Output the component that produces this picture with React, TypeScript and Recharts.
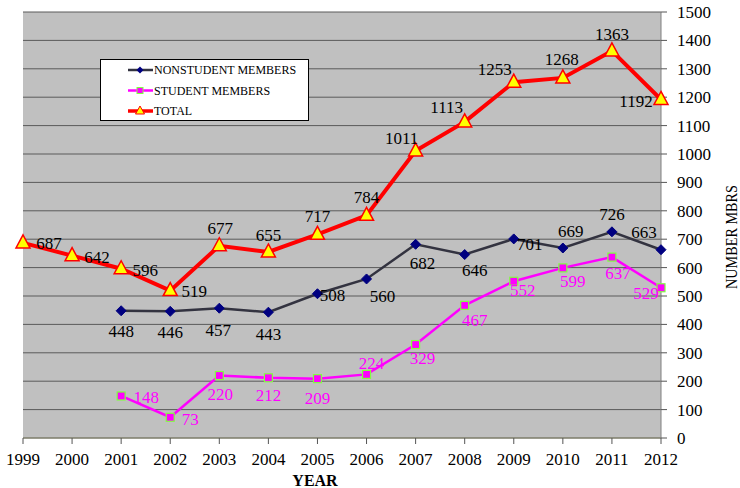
import { LineChart, Line, XAxis, YAxis, CartesianGrid, Legend } from "recharts";

const years = ["1999", "2000", "2001", "2002", "2003", "2004", "2005", "2006", "2007", "2008", "2009", "2010", "2011", "2012"];
const nonstudentMembers = [null, null, 448, 446, 457, 443, 508, 560, 682, 646, 701, 669, 726, 663];
const studentMembers = [null, null, 148, 73, 220, 212, 209, 224, 329, 467, 552, 599, 637, 529];
const totalMembers = [687, 642, 596, 519, 677, 655, 717, 784, 1011, 1113, 1253, 1268, 1363, 1192];
const yTicks = [0, 100, 200, 300, 400, 500, 600, 700, 800, 900, 1000, 1100, 1200, 1300, 1400, 1500];

// label offsets (text centre relative to the point), per series
const totalLabelOffsets = [[26, 0], [25, 1], [24, 1], [24, 0], [1, -18], [0, -17], [0, -18], [0, -18], [-14, -13], [-18, -15], [-19, -13], [-1, -19], [0, -17], [-25, 2]];
const nonstudentLabelOffsets = [null, null, [0, 20], [0, 21], [-1, 22], [0, 22], [15, 1], [16, 17], [7, 19], [10, 15], [16, 5], [8, -17], [0, -18], [-17, -18]];
const studentLabelOffsets = [null, null, [25, 1], [20, 2], [1, 18], [0, 17], [0, 19], [5, -11], [7, 13], [10, 15], [9, 9], [10, 13], [6, 16], [-15, 5]];

const data = years.map((year, i) => ({
  year,
  nonstudent: nonstudentMembers[i],
  student: studentMembers[i],
  total: totalMembers[i],
}));

const FONT = "Liberation Serif, Times New Roman, serif";
const fontStyle = { fontFamily: FONT };

const NONSTUDENT_LINE = "#333340";
const NONSTUDENT_MARK = "#000080";
const STUDENT = "#ff00ff";
const TOTAL = "#ff0000";

function makeLabel(offsets: any[], color: string) {
  return (props: any) => {
    const { x, y, value, index } = props;
    if (value == null || x == null || y == null) return null;
    const off = offsets[index] || [0, -15];
    return (
      <text x={x + off[0]} y={y + off[1] + 6} textAnchor="middle" fontSize={17} style={fontStyle} fill={color}>
        {value}
      </text>
    );
  };
}

const Diamond = (props: any) => {
  const { cx, cy, index } = props;
  if (cx == null || cy == null || props.value == null) return <g key={index} />;
  const r = 5;
  return (
    <polygon
      key={index}
      points={`${cx},${cy - r} ${cx + r},${cy} ${cx},${cy + r} ${cx - r},${cy}`}
      fill={NONSTUDENT_MARK}
      stroke={NONSTUDENT_MARK}
    />
  );
};

const Square = (props: any) => {
  const { cx, cy, index } = props;
  if (cx == null || cy == null || props.value == null) return <g key={index} />;
  return <rect key={index} x={cx - 4} y={cy - 4} width={8} height={8} fill={STUDENT} stroke="#80ff40" strokeWidth={1.2} />;
};

const Triangle = (props: any) => {
  const { cx, cy, index } = props;
  if (cx == null || cy == null) return <g key={index} />;
  return (
    <polygon
      key={index}
      points={`${cx},${cy - 8} ${cx + 7},${cy + 5} ${cx - 7},${cy + 5}`}
      fill="#ffff00"
      stroke={TOTAL}
      strokeWidth={1.5}
    />
  );
};

function LegendBox() {
  const rows = [
    { name: "NONSTUDENT MEMBERS", line: NONSTUDENT_LINE, mark: "diamond" },
    { name: "STUDENT MEMBERS", line: STUDENT, mark: "square" },
    { name: "TOTAL", line: TOTAL, mark: "triangle" },
  ];
  return (
    <svg width={209} height={62} style={{ display: "block" }}>
      <rect x={0.5} y={0.5} width={208} height={61} fill="#ffffff" stroke="#000000" strokeWidth={1} />
      {rows.map((r, i) => {
        const cy = 11 + i * 20.5;
        const cx = 40;
        return (
          <g key={r.name}>
            <line x1={28} x2={53} y1={cy} y2={cy} stroke={r.line} strokeWidth={r.mark === "triangle" ? 3.5 : 2.5} />
            {r.mark === "diamond" && (
              <polygon points={`${cx},${cy - 3.5} ${cx + 3.5},${cy} ${cx},${cy + 3.5} ${cx - 3.5},${cy}`} fill={NONSTUDENT_MARK} />
            )}
            {r.mark === "square" && <rect x={cx - 3} y={cy - 3} width={6} height={6} fill={STUDENT} stroke="#80ff40" />}
            {r.mark === "triangle" && (
              <polygon points={`${cx},${cy - 5} ${cx + 4.5},${cy + 3} ${cx - 4.5},${cy + 3}`} fill="#ffff00" stroke={TOTAL} />
            )}
            <text x={54} y={cy + 4} fontSize={12} style={fontStyle} fill="#000000">
              {r.name}
            </text>
          </g>
        );
      })}
    </svg>
  );
}

export default function App() {
  return (
    <div style={{ position: "absolute", left: 0, top: 0, width: 740, height: 488, background: "#ffffff", fontFamily: FONT }}>
      <LineChart width={740} height={488} data={data} margin={{ top: 12, right: 0, bottom: 0, left: 23 }} style={fontStyle}>
        <CartesianGrid vertical={false} fill="#c0c0c0" stroke="#5a5a5a" strokeWidth={1} />
        <XAxis
          dataKey="year"
          height={50}
          stroke="#8c8c70"
          tickLine={{ stroke: "#555555" }}
          tickSize={6}
          tickMargin={9}
          interval={0}
          tick={{ fontSize: 17, fill: "#000000", style: fontStyle }}
          label={{
            content: (p: any) => {
              const vb = p.viewBox;
              return (
                <text x={vb.x + vb.width / 2 - 27} y={vb.y + 48} textAnchor="middle" fontSize={16} fontWeight="bold" style={fontStyle} fill="#000000">
                  YEAR
                </text>
              );
            },
          }}
        />
        <YAxis
          orientation="right"
          width={79}
          domain={[0, 1500]}
          ticks={yTicks}
          interval={0}
          stroke="#808080"
          tickLine={{ stroke: "#555555" }}
          tickSize={6}
          tickMargin={10}
          tick={{ fontSize: 17, fill: "#000000", style: fontStyle }}
          label={{
            content: (p: any) => {
              const vb = p.viewBox;
              const x = vb.x + 76;
              const y = vb.y + vb.height / 2 + 12;
              return (
                <text
                  x={x}
                  y={y}
                  transform={`rotate(-90 ${x} ${y})`}
                  textAnchor="middle"
                  fontSize={17}
                  textLength={104}
                  lengthAdjust="spacingAndGlyphs"
                  style={fontStyle}
                  fill="#000000"
                >
                  NUMBER MBRS
                </text>
              );
            },
          }}
        />
        <Legend
          layout="vertical"
          align="center"
          verticalAlign="middle"
          content={() => <LegendBox />}
          wrapperStyle={{ position: "absolute", left: 100, top: 59, width: 209, height: 62 }}
        />
        <Line
          dataKey="nonstudent"
          stroke={NONSTUDENT_LINE}
          strokeWidth={2.5}
          dot={Diamond}
          activeDot={false}
          label={makeLabel(nonstudentLabelOffsets, "#000000")}
          isAnimationActive={false}
        />
        <Line
          dataKey="student"
          stroke={STUDENT}
          strokeWidth={2.5}
          dot={Square}
          activeDot={false}
          label={makeLabel(studentLabelOffsets, STUDENT)}
          isAnimationActive={false}
        />
        <Line
          dataKey="total"
          stroke={TOTAL}
          strokeWidth={4}
          dot={Triangle}
          activeDot={false}
          label={makeLabel(totalLabelOffsets, "#000000")}
          isAnimationActive={false}
        />
      </LineChart>
    </div>
  );
}
